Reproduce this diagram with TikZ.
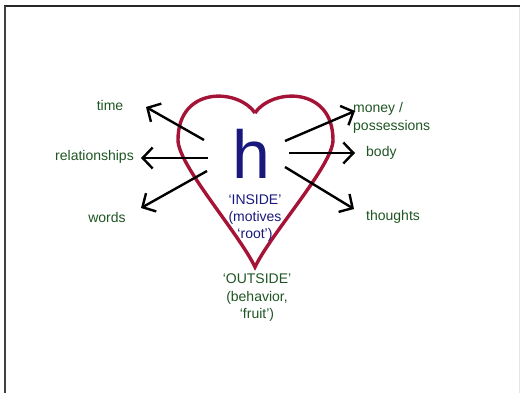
\documentclass[tikz,border=0pt]{standalone}
\usepackage{fontspec}
\setmainfont{Liberation Sans}
\usetikzlibrary{arrows.meta,positioning}

\definecolor{heartred}{RGB}{165,20,55}
\definecolor{leafgreen}{RGB}{30,85,35}
\definecolor{inknavy}{RGB}{25,25,125}

\tikzset{
  outer/.style={text=leafgreen,inner sep=0pt,font=\fontsize{14}{17.5}\selectfont},
  inner/.style={text=inknavy,inner sep=0pt,font=\fontsize{14}{17}\selectfont,align=center},
  push/.style={line width=2.4pt,-{Straight Barb[length=10pt,width=21pt,line width=2.4pt]}}
}

\begin{document}
\begin{tikzpicture}[x=1pt,y=-1pt]
  \useasboundingbox (0,0) rectangle (520,393);
  \draw[line width=2pt,black!85] (4,6.5) -- (520,6.5);
  \draw[line width=2pt,black!75] (5,6) -- (5,393);
  \draw[line width=0.8pt,black!10] (519,7) -- (519,393);

  % heart
  \draw[heartred,line width=3.4pt,line join=miter]
    (255,113) .. controls (238,88) and (178,86) .. (178,140)
    .. controls (178,165) and (238,232) .. (255,267)
    .. controls (272,232) and (333,165) .. (333,140)
    .. controls (333,86) and (272,88) .. (255,113);

  \node[text=inknavy,inner sep=0pt,anchor=base,text depth=0pt,font=\fontsize{68}{68}\selectfont] (h) at (251,179) {h};
  \node[inner] (inside) at (255,218.5) {`INSIDE'\\(motives\\`root')};
  \node[outer,align=center] (outside) at (257,298) {`OUTSIDE'\\(behavior,\\`fruit')};

  \node[outer] (time) at (110,105) {time};
  \node[outer,anchor=east] (rel) at (134,157) {relationships};
  \node[outer] (words) at (107,217) {words};
  \node[outer,anchor=west,align=left] (money) at (353,118) {money /\\possessions};
  \node[outer,anchor=west] (body) at (366,153) {body};
  \node[outer,anchor=west] (thoughts) at (366,217) {thoughts};

  % arrow ends
  \coordinate (t1) at (204,140);
  \coordinate (t2) at (208,158);
  \coordinate (t3) at (207,171);
  \coordinate (t4) at (285,141);
  \coordinate (t5) at (289,153);
  \coordinate (t6) at (285,167);
  \coordinate (h1) at (146,107);
  \coordinate (h2) at (141,158);
  \coordinate (h3) at (141,208);
  \coordinate (h4) at (355,111);
  \coordinate (h5) at (355,153);
  \coordinate (h6) at (354,209);

  \draw[push] (t1) -- (h1);
  \draw[push] (t2) -- (h2);
  \draw[push] (t3) -- (h3);
  \draw[push] (t4) -- (h4);
  \draw[push] (t5) -- (h5);
  \draw[push] (t6) -- (h6);

\end{tikzpicture}
\end{document}
